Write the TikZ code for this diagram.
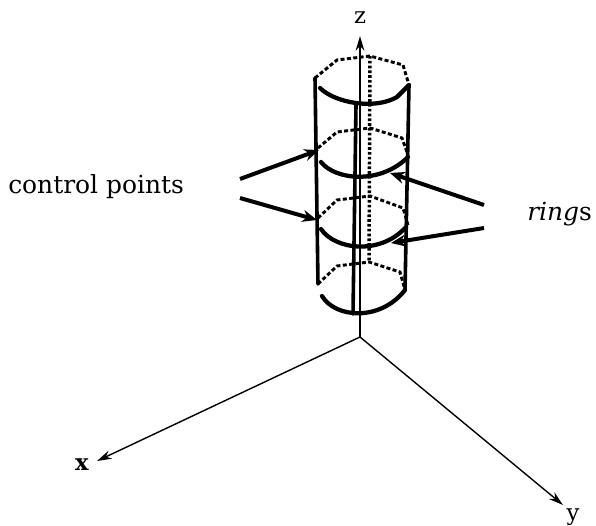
\documentclass[tikz,border=0pt]{standalone}
\usepackage{fontspec}
\setmainfont{DejaVu Serif}
\usetikzlibrary{arrows.meta}
\tikzset{
 px/.style={x=0.75pt,y=-0.75pt},
 lbl/.style={inner sep=0pt,font=\fontsize{17pt}{20pt}\selectfont},
 txt/.style={inner sep=0pt,anchor=base west,font=\fontsize{18.7pt}{22pt}\selectfont},
 axis/.style={line width=1.05pt,-{Stealth[length=11pt,width=6.5pt]}},
 edge/.style={line width=3.2pt,line cap=round,line join=round},
 wire/.style={line width=2.7pt,line cap=round},
 hid/.style={line width=2.2pt,dash pattern=on 3pt off 1.8pt},
 back/.style={line width=2.6pt,dash pattern=on 2pt off 1.6pt},
 pointer/.style={line width=3pt,-{Stealth[length=11pt,width=9pt]}}
}
\begin{document}
\begin{tikzpicture}[px]
\useasboundingbox (0,0) rectangle (596,525);
\fill[white] (0,0) rectangle (596,525);
% axes
\coordinate (o) at (360,337);
\coordinate (ztip) at (360,36);
\coordinate (xtip) at (97,461);
\coordinate (ytip) at (563,505);
\draw[axis] (o) -- (ztip);
\draw[axis] (o) -- (xtip);
\draw[axis] (o) -- (ytip);
\node[lbl] (zl) at (360,18) {z};
\node[lbl,font=\fontsize{17pt}{20pt}\bfseries\selectfont] (xl) at (82,465) {x};
\node[lbl] (yy) at (573,517) {y};
% verticals
\coordinate (la) at (315,78); \coordinate (lb) at (318,284);
\coordinate (ra) at (409,85); \coordinate (rb) at (405,290);
\coordinate (fa) at (356,105); \coordinate (fb) at (353,314);
\coordinate (ba) at (370,56); \coordinate (bb) at (369,262);
\draw[wire] (la) -- (lb);
\draw[wire] (ra) -- (rb);
\draw[wire] (fa) -- (fb);
\draw[back] (ba) -- (bb);
% rings hidden
\draw[hid] (la) -- (337,60) -- (ba) -- (403,65) -- (ra);
\draw[hid] (318,148) -- (337,132) -- (370,128) -- (402,138) -- (408,155);
\draw[hid] (318,218) -- (337,200) -- (370,196) -- (403,208) -- (408,225);
\draw[hid] (lb) -- (337,266) -- (bb) -- (400,272) -- (rb);
% rings front
\draw[edge] (320,88) .. controls (335,103) and (375,110) .. (397,97) -- (ra);
\draw[edge] (321,162) .. controls (335,180) and (380,185) .. (408,157);
\draw[edge] (321,229) .. controls (335,250) and (380,255) .. (405,228);
\draw[edge] (322,296) .. controls (335,318) and (380,322) .. (rb);
% pointers
\coordinate (c1) at (240,179); \coordinate (c1e) at (319,150);
\coordinate (c2) at (240,198); \coordinate (c2e) at (317,220);
\coordinate (r1) at (484,205); \coordinate (r1e) at (390,173);
\coordinate (r2) at (484,228); \coordinate (r2e) at (391,243);
\draw[pointer] (c1) -- (c1e);
\draw[pointer] (c2) -- (c2e);
\draw[pointer] (r1) -- (r1e);
\draw[pointer] (r2) -- (r2e);
\node[txt] (cp) at (8,193) {control points};
\node[txt] (rg) at (527,220) {\textit{ring}s};
\end{tikzpicture}
\end{document}
